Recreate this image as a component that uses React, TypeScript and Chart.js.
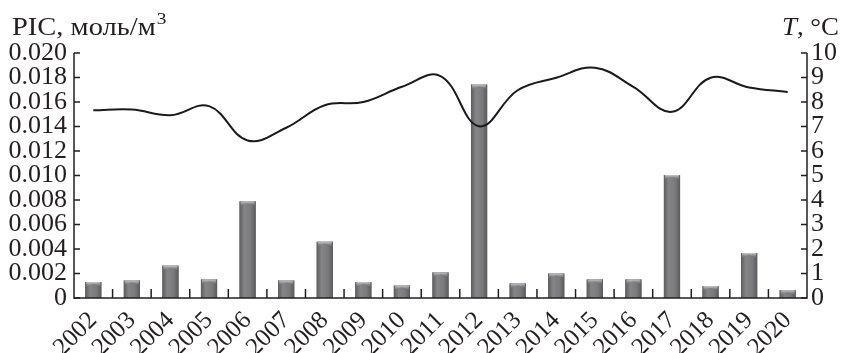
import React, { useEffect, useRef } from "react";
import { Chart, registerables } from "chart.js";

Chart.register(...registerables);

const years = ["2002", "2003", "2004", "2005", "2006", "2007", "2008", "2009", "2010", "2011", "2012", "2013", "2014", "2015", "2016", "2017", "2018", "2019", "2020"];
const picValues = [0.0013, 0.00143, 0.00264, 0.00152, 0.0079, 0.00143, 0.0046, 0.0013, 0.00102, 0.00209, 0.01742, 0.00119, 0.002, 0.00152, 0.00152, 0.01004, 0.00097, 0.00367, 0.00064];
const tempValues = [7.66, 7.69, 7.46, 7.83, 6.43, 6.95, 7.87, 8.0, 8.62, 9.06, 7.01, 8.48, 8.99, 9.4, 8.62, 7.6, 8.99, 8.59, 8.41];
const picAxis = { min: 0, max: 0.02, step: 0.002 };
const tempAxis = { min: 0, max: 10, step: 1 };
const picTitle = "PIC, моль/м";
const picTitleSup = "3";
const tempTitleItalic = "T";
const tempTitleRest = ", °C";

const INK = "#231f20";
const SERIF = '"Liberation Serif", "DejaVu Serif", serif';

const barStylePlugin = {
  id: "barStyle",
  afterDatasetDraw(chart: any, args: any) {
    if (args.index !== 0) return;
    const ctx = chart.ctx;
    const meta = chart.getDatasetMeta(0);
    ctx.save();
    meta.data.forEach((bar: any) => {
      const w = bar.width;
      const l = bar.x - w / 2;
      const top = bar.y;
      const h = bar.base - bar.y;
      const g = ctx.createLinearGradient(l, 0, l + w, 0);
      g.addColorStop(0, "#5c5c5e");
      g.addColorStop(0.3, "#858587");
      g.addColorStop(0.7, "#7a7a7c");
      g.addColorStop(1, "#5a5a5c");
      ctx.fillStyle = g;
      ctx.fillRect(l, top, w, h);
      const cg = ctx.createLinearGradient(0, top, 0, top + 5);
      cg.addColorStop(0, "#c8c8ca");
      cg.addColorStop(1, "rgba(140,140,142,0)");
      ctx.fillStyle = cg;
      ctx.beginPath();
      ctx.moveTo(l + 1, top + 5);
      ctx.quadraticCurveTo(l + w / 2, top - 1, l + w - 1, top + 5);
      ctx.lineTo(l + w - 1, top);
      ctx.lineTo(l + 1, top);
      ctx.closePath();
      ctx.fill();
    });
    ctx.restore();
  },
};

const axesPlugin = {
  id: "customAxes",
  afterDraw(chart: any) {
    const ctx = chart.ctx;
    const { left, right, top, bottom } = chart.chartArea;
    const yL = chart.scales.y;
    const yR = chart.scales.y1;
    const x = chart.scales.x;
    ctx.save();
    ctx.strokeStyle = INK;
    ctx.lineWidth = 1.5;
    ctx.beginPath();
    ctx.moveTo(left, top);
    ctx.lineTo(left, bottom);
    ctx.lineTo(right, bottom);
    ctx.lineTo(right, top);
    ctx.stroke();
    ctx.beginPath();
    yL.ticks.forEach((t: any) => {
      const py = yL.getPixelForValue(t.value);
      ctx.moveTo(left, py);
      ctx.lineTo(left + 6, py);
    });
    yR.ticks.forEach((t: any) => {
      const py = yR.getPixelForValue(t.value);
      ctx.moveTo(right, py);
      ctx.lineTo(right - 6, py);
    });
    for (let i = 1; i < years.length; i++) {
      const px = (x.getPixelForValue(i - 1) + x.getPixelForValue(i)) / 2;
      ctx.moveTo(px, bottom);
      ctx.lineTo(px, bottom - 9);
    }
    ctx.stroke();

    // titles
    ctx.fillStyle = INK;
    ctx.textBaseline = "alphabetic";
    ctx.textAlign = "left";
    ctx.save();
    ctx.translate(12, 35);
    ctx.scale(1.14, 1);
    ctx.font = `25px ${SERIF}`;
    ctx.fillText(picTitle, 0, 0);
    const w1 = ctx.measureText(picTitle).width;
    ctx.font = `17px ${SERIF}`;
    ctx.fillText(picTitleSup, w1 + 1, -11);
    ctx.restore();

    ctx.save();
    ctx.font = `26px ${SERIF}`;
    const wRest = ctx.measureText(tempTitleRest).width;
    ctx.font = `italic 26px ${SERIF}`;
    const wT = ctx.measureText(tempTitleItalic).width;
    const total = wRest + wT;
    const sx = 57 / total;
    ctx.translate(782, 35);
    ctx.scale(sx, 1);
    ctx.fillText(tempTitleItalic, 0, 0);
    ctx.font = `26px ${SERIF}`;
    ctx.fillText(tempTitleRest, wT, 0);
    ctx.restore();
    ctx.restore();
  },
};

export default function App() {
  const ref = useRef<HTMLCanvasElement | null>(null);
  useEffect(() => {
    document.body.style.margin = "0";
    if (!ref.current) return;
    const chart = new Chart(ref.current, {
      type: "bar",
      data: {
        labels: years,
        datasets: [
          {
            type: "bar",
            label: "PIC",
            data: picValues,
            yAxisID: "y",
            backgroundColor: "#767678",
            borderWidth: 0,
            categoryPercentage: 1,
            barPercentage: 0.42,
            order: 1,
          } as any,
          {
            type: "line",
            label: "T",
            data: tempValues,
            yAxisID: "y1",
            borderColor: "#1a1a1a",
            borderWidth: 2,
            pointRadius: 0,
            tension: 0.4,
            fill: false,
            order: 0,
          } as any,
        ],
      },
      options: {
        responsive: false,
        animation: false,
        devicePixelRatio: 1,
        layout: { padding: { top: 53, left: 0, right: 0, bottom: 0 } },
        plugins: { legend: { display: false }, tooltip: { enabled: false } },
        scales: {
          x: {
            offset: true,
            grid: { display: false, drawTicks: false },
            border: { display: false },
            ticks: {
              autoSkip: false,
              maxRotation: 45,
              minRotation: 45,
              padding: 8,
              color: INK,
              font: { family: SERIF, size: 25 },
            },
            afterFit: (s: any) => {
              s.height = 55;
            },
          },
          y: {
            position: "left",
            min: picAxis.min,
            max: picAxis.max,
            grid: { display: false, drawTicks: false },
            border: { display: false },
            ticks: {
              stepSize: picAxis.step,
              autoSkip: false,
              padding: 7,
              color: INK,
              font: { family: SERIF, size: 26 },
              callback: (v: any) => (Math.abs(v) < 1e-9 ? "0" : Number(v).toFixed(3)),
            },
            afterFit: (s: any) => {
              s.width = 74;
            },
          },
          y1: {
            position: "right",
            min: tempAxis.min,
            max: tempAxis.max,
            grid: { display: false, drawTicks: false },
            border: { display: false },
            ticks: {
              stepSize: tempAxis.step,
              autoSkip: false,
              padding: 4,
              color: INK,
              font: { family: SERIF, size: 26 },
            },
            afterFit: (s: any) => {
              s.width = 36;
            },
          },
        },
      },
      plugins: [barStylePlugin, axesPlugin],
    });
    return () => chart.destroy();
  }, []);
  return (
    <div style={{ width: 843, height: 353 }}>
      <canvas ref={ref} width={843} height={353} />
    </div>
  );
}
